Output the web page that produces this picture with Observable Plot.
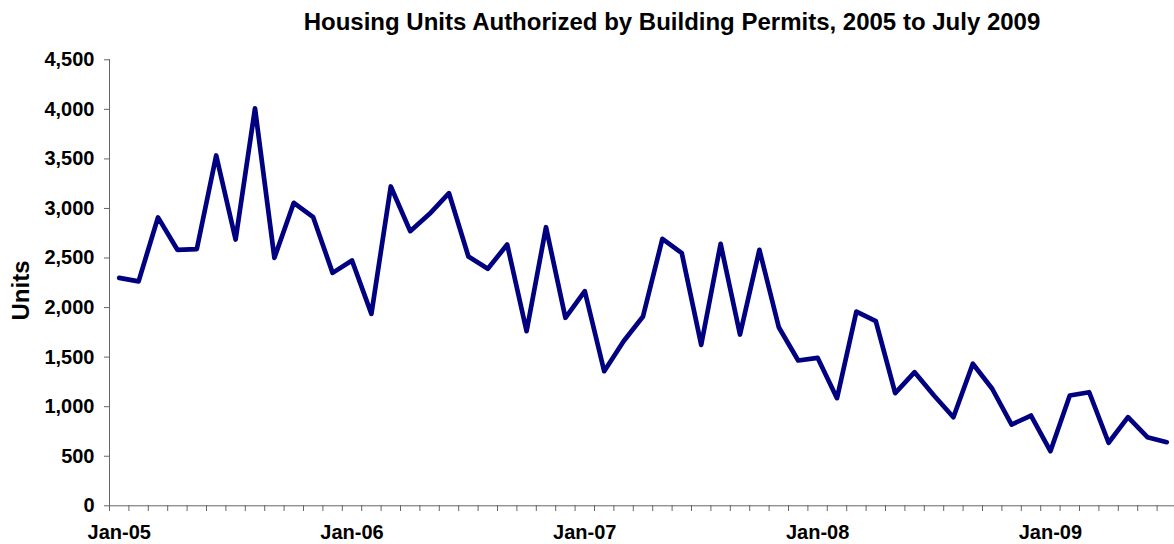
<!DOCTYPE html>
<html>
<head>
<meta charset="utf-8">
<script src="https://cdn.jsdelivr.net/npm/d3@7"></script>
<script src="https://cdn.jsdelivr.net/npm/@observablehq/plot@0.6"></script>
<style>
  html, body { margin: 0; padding: 0; background: #fff; }
</style>
</head>
<body>
<div id="chart"></div>
<script>
const title = "Housing Units Authorized by Building Permits, 2005 to July 2009";
const yLabel = "Units";

const months = [
  "Jan-05","Feb-05","Mar-05","Apr-05","May-05","Jun-05","Jul-05","Aug-05","Sep-05","Oct-05","Nov-05","Dec-05",
  "Jan-06","Feb-06","Mar-06","Apr-06","May-06","Jun-06","Jul-06","Aug-06","Sep-06","Oct-06","Nov-06","Dec-06",
  "Jan-07","Feb-07","Mar-07","Apr-07","May-07","Jun-07","Jul-07","Aug-07","Sep-07","Oct-07","Nov-07","Dec-07",
  "Jan-08","Feb-08","Mar-08","Apr-08","May-08","Jun-08","Jul-08","Aug-08","Sep-08","Oct-08","Nov-08","Dec-08",
  "Jan-09","Feb-09","Mar-09","Apr-09","May-09","Jun-09","Jul-09"
];

const units = [
  2300, 2265, 2910, 2583, 2590, 3535, 2687, 4010, 2502, 3057, 2912, 2350,
  2475, 1937, 3222, 2771, 2946, 3154, 2515, 2391, 2636, 1762, 2811, 1897,
  2165, 1358, 1661, 1910, 2694, 2549, 1624, 2643, 1728, 2583, 1802, 1466,
  1493, 1086, 1960, 1863, 1136, 1348, 1113, 894, 1433, 1181, 820, 911,
  551, 1113, 1146, 636, 894, 692, 642
];

const yTicks = [0, 500, 1000, 1500, 2000, 2500, 3000, 3500, 4000, 4500];
const xLabelTicks = ["Jan-05", "Jan-06", "Jan-07", "Jan-08", "Jan-09"];

const data = units.map((v, i) => ({i, month: months[i], value: v}));
const n = months.length;
const boundaries = d3.range(-0.5, n, 1);
const labelIdx = xLabelTicks.map(m => months.indexOf(m));

const axisColor = "#666";
const font = "'Liberation Sans', Arial, Helvetica, sans-serif";

const chart = Plot.plot({
  width: 1174,
  height: 544,
  marginTop: 59,
  marginBottom: 39,
  marginLeft: 110,
  marginRight: 0,
  style: {fontFamily: font, fontWeight: "bold", fontSize: "20px", color: "#000", background: "#fff"},
  x: {type: "linear", domain: [-0.5, n - 0.5], range: [109, 1176]},
  y: {domain: [0, 4500], range: [505.3, 59.3]},
  marks: [
    Plot.axisY({ticks: yTicks, tickSize: 6, tickPadding: 10, tickFormat: d3.format(","), stroke: axisColor, fill: "#000", fontSize: 20, label: null}),
    Plot.axisX({ticks: boundaries, tickSize: 6, tickFormat: () => "", stroke: axisColor, label: null}),
    Plot.axisX({ticks: labelIdx, tickSize: 0, tickPadding: 19.5, tickFormat: i => months[i], fill: "#000", fontSize: 20, label: null}),
    Plot.ruleX([-0.5], {stroke: axisColor, strokeWidth: 1}),
    Plot.ruleY([0], {stroke: axisColor, strokeWidth: 1}),
    Plot.lineY(data, {x: "i", y: "value", stroke: "#000080", strokeWidth: 4.7, strokeLinejoin: "round"}),
    Plot.text([title], {text: d => d, frameAnchor: "top", dx: 29.5, dy: -37, lineAnchor: "middle", fontSize: 24, fontWeight: "bold", fill: "#000"}),
    Plot.text([yLabel], {text: d => d, frameAnchor: "left", dx: -89, dy: 38, rotate: -90, lineAnchor: "middle", fontSize: 24, fontWeight: "bold", fill: "#000"})
  ]
});
document.getElementById("chart").appendChild(chart);
</script>
</body>
</html>
